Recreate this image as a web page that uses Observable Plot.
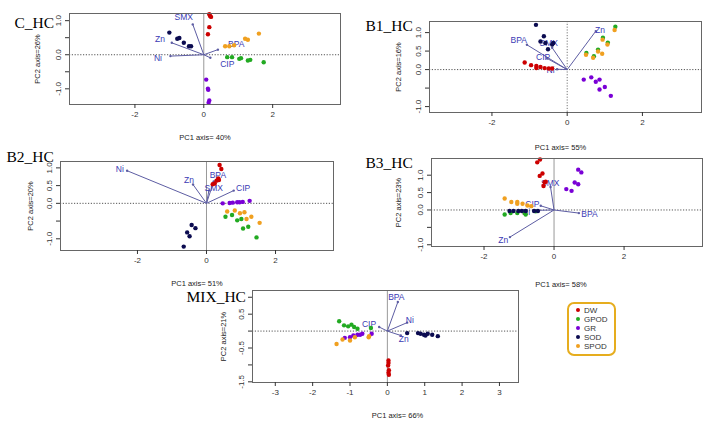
<!DOCTYPE html>
<html><head><meta charset="utf-8">
<script src="https://cdn.jsdelivr.net/npm/d3@7"></script>
<script src="https://cdn.jsdelivr.net/npm/@observablehq/plot@0.6"></script>
<style>
body{margin:0;background:#fff;}
#root{position:relative;width:708px;height:422px;overflow:hidden;background:#fff;font-family:"Liberation Sans",Arial,sans-serif;}
.legend{position:absolute;left:567px;top:302px;width:49px;height:54px;border:2px solid #e6ad1e;border-radius:7px;font-size:8px;color:#333;box-sizing:border-box;padding:2px 0 0 7px;line-height:9px;}
.legend span.d{display:inline-block;width:4px;height:4px;border-radius:50%;margin-right:4px;vertical-align:middle;position:relative;top:-1px;}
</style></head><body><div id="root"></div>
<script>
const groups = ["DW", "GPOD", "GR", "SOD", "SPOD"];
const groupColors = ["#cc0000", "#22aa22", "#7a00d6", "#0b0b50", "#f0a020"];

// ---- C_HC ----
const C_DW = [[0.16,1.19],[0.21,1.11],[0.18,1.14],[0.16,0.81],[0.12,0.60]];
const C_GPOD = [[0.68,-0.07],[0.82,-0.07],[1.03,-0.12],[1.08,-0.10],[1.28,-0.17],[1.35,-0.15],[1.74,-0.22]];
const C_GR = [[0.07,-0.73],[0.12,-1.0],[0.13,-1.03],[0.16,-1.34],[0.14,-1.41]];
const C_SOD = [[-1.0,0.65],[-0.77,0.47],[-0.71,0.49],[-0.58,0.35],[-0.43,0.25],[-0.37,0.25]];
const C_SPOD = [[0.62,0.25],[0.74,0.25],[0.88,0.28],[1.2,0.47],[1.28,0.44],[1.6,0.62]];
const C_vars = ["SMX","Zn","Ni","BPA","CIP"];
const C_tipX = [-0.32,-0.93,-0.97,0.41,0.19];
const C_tipY = [0.89,0.35,-0.04,0.15,-0.09];
const C_labX = [-0.58,-1.27,-1.33,0.94,0.68];
const C_labY = [1.09,0.44,-0.09,0.32,-0.28];

// ---- B1_HC ----
const B1_DW = [[-1.13,0.19],[-0.96,0.12],[-0.82,0.10],[-0.82,0.04],[-0.71,0.07],[-0.60,0.04],[-0.49,0.03],[-0.40,0.03]];
const B1_GPOD = [[1.28,1.16],[0.95,0.86],[1.08,0.73],[0.82,0.54],[0.51,0.45],[0.71,0.36]];
const B1_GR = [[0.44,-0.27],[0.64,-0.21],[0.76,-0.33],[0.86,-0.27],[0.86,-0.54],[1.0,-0.47],[1.16,-0.71]];
const B1_SOD = [[-0.83,1.21],[-0.62,0.90],[-0.71,0.76],[-0.58,0.72],[-0.37,0.72],[-0.51,0.55],[-0.40,0.68]];
const B1_SPOD = [[1.26,1.07],[0.94,0.81],[1.07,0.68],[0.82,0.49],[0.50,0.40],[0.69,0.32],[0.93,0.43]];
const B1_vars = ["Zn","BPA","SMX","CIP","Ni"];
const B1_tipX = [0.76,-1.07,-0.4,-0.53,-0.27];
const B1_tipY = [1.04,0.67,0.59,0.3,0.01];
const B1_labX = [0.87,-1.29,-0.49,-0.64,-0.44];
const B1_labY = [1.07,0.79,0.70,0.34,-0.02];

// ---- B2_HC ----
const B2_DW = [[0.38,1.08],[0.43,0.97],[0.34,0.70],[0.29,0.64],[0.24,0.56],[0.18,0.54],[0.36,0.66]];
const B2_GPOD = [[0.55,-0.38],[0.74,-0.33],[0.89,-0.48],[1.01,-0.44],[1.06,-0.71],[1.21,-0.66],[1.45,-0.96]];
const B2_GR = [[0.47,0.0],[0.67,0.01],[0.76,0.02],[0.89,0.03],[0.96,0.03],[1.05,0.04],[1.25,0.07]];
const B2_SOD = [[-0.43,-0.61],[-0.32,-0.70],[-0.56,-0.82],[-0.49,-0.93],[-0.66,-1.22]];
const B2_SPOD = [[0.60,-0.23],[0.82,-0.20],[0.97,-0.28],[1.10,-0.25],[1.16,-0.44],[1.30,-0.38],[1.54,-0.55]];
const B2_vars = ["Ni","Zn","BPA","SMX","CIP"];
const B2_tipX = [-2.3,-0.39,0.21,0.07,0.79];
const B2_tipY = [0.92,0.53,0.62,0.36,0.36];
const B2_labX = [-2.51,-0.51,0.33,0.21,1.06];
const B2_labY = [0.97,0.66,0.78,0.42,0.43];

// ---- B3_HC ----
const B3_DW = [[-0.48,1.37],[-0.40,1.45],[-0.33,1.05],[-0.41,0.98],[-0.27,0.80],[-0.30,0.69],[-0.24,0.81]];
const B3_GPOD = [[-1.41,-0.13],[-1.24,-0.09],[-1.05,-0.09],[-0.84,-0.09],[-0.81,-0.13],[-0.52,-0.04]];
const B3_GR = [[0.69,1.16],[0.78,1.08],[0.59,0.79],[0.69,0.74],[0.35,0.60],[0.50,0.55]];
const B3_SOD = [[-1.27,-0.03],[-1.16,-0.03],[-1.02,-0.03],[-0.92,-0.03],[-0.81,-0.03],[-0.57,-0.03],[-0.46,-0.03]];
const B3_SPOD = [[-1.41,0.33],[-1.22,0.23],[-1.05,0.23],[-1.05,0.18],[-0.90,0.18],[-0.76,0.13],[-0.65,0.11]];
const B3_vars = ["SMX","CIP","BPA","Zn","Ni"];
const B3_tipX = [-0.1,-0.38,0.71,-1.26,-0.5];
const B3_tipY = [0.66,0.12,-0.09,-0.78,-0.01];
const B3_labX = [-0.11,-0.62,1.01,-1.45,-0.8];
const B3_labY = [0.78,0.16,-0.13,-0.88,-0.08];

// ---- MIX_HC ----
const MIX_DW = [[0.03,-0.87],[0.03,-0.94],[0.02,-1.02],[0.04,-1.16],[0.03,-1.23],[0.04,-1.29]];
const MIX_GPOD = [[-1.29,0.29],[-1.16,0.17],[-1.05,0.14],[-0.96,0.19],[-0.89,0.12],[-0.80,0.07],[-0.44,0.09]];
const MIX_GR = [[-1.14,-0.20],[-1.0,-0.18],[-0.91,-0.13],[-0.80,-0.11],[-0.73,-0.11],[-0.67,-0.08],[-0.42,-0.08]];
const MIX_SOD = [[0.53,-0.06],[0.82,-0.06],[0.89,-0.08],[0.98,-0.11],[1.02,-0.13],[1.08,-0.08],[1.20,-0.11],[1.35,-0.15]];
const MIX_SPOD = [[-1.36,-0.38],[-1.20,-0.25],[-1.0,-0.28],[-0.87,-0.18],[-0.49,-0.15],[-0.50,-0.18]];
const MIX_vars = ["BPA","Ni","Zn","CIP"];
const MIX_tipX = [0.28,0.53,0.36,-0.22];
const MIX_tipY = [0.86,0.25,-0.13,0.12];
const MIX_labX = [0.24,0.60,0.44,-0.49];
const MIX_labY = [1.0,0.31,-0.23,0.19];

// ---- titles & ticks ----
const panelTitles = ["C_HC","B1_HC","B2_HC","B3_HC","MIX_HC"];
const xTitles = ["PC1 axis= 40%","PC1 axis= 55%","PC1 axis= 51%","PC1 axis= 58%","PC1 axis= 66%"];
const yTitles = ["PC2 axis=26%","PC2 axis=16%","PC2 axis=20%","PC2 axis=23%","PC2 axis=21%"];
const xTicks3 = [-2, 0, 2];
const xTickLabels3 = ["-2", "0", "2"];
const xTicksMix = [-3, -2, -1, 0, 1, 2, 3];
const xTickLabelsMix = ["-3", "-2", "-1", "0", "1", "2", "3"];
const yTicksStd = [1, 0.5, 0, -0.5, -1];
const yTickLabelsC = ["1.0", "", "0.0", "", "-1.0"];
const yTickLabelsB = ["1.0", "0.5", "0.0", "", "-1.0"];
const yTicksMix = [1, 0.5, 0, -0.5, -1, -1.5];
const yTickLabelsMix = ["", "0.5", "", "-0.5", "", "-1.5"];

const root = document.getElementById("root");

function panel(i, pts, vars, tipX, tipY, labX, labY, xt, xtl, yt, ytl, L) {
  const data = [];
  groups.forEach((g, k) => pts[k].forEach(([x, y]) => data.push({x, y, g})));
  const loads = vars.map((v, k) => ({v, x: tipX[k], y: tipY[k], lx: labX[k], ly: labY[k]}));
  const mL = L.bx0 - L.sx, mT = L.by0 - L.sy;
  const mR = L.sx + L.w - L.bx1, mB = L.sy + L.h - L.by1;
  const xf = new Map(xt.map((t, k) => [t, xtl[k]]));
  const yf = new Map(yt.map((t, k) => [t, ytl[k]]));
  const svg = Plot.plot({
    width: L.w, height: L.h,
    marginLeft: mL, marginTop: mT, marginRight: mR, marginBottom: mB,
    x: {domain: L.xd}, y: {domain: L.yd},
    color: {domain: groups, range: groupColors},
    style: {background: "transparent", overflow: "visible", fontFamily: "'Liberation Sans', Arial, sans-serif"},
    marks: [
      Plot.ruleY([0], {stroke: "#555", strokeDasharray: "1.2,1.6"}),
      Plot.ruleX([0], L.vdash ? {stroke: "#777", strokeDasharray: "1.2,1.6"} : {stroke: "#999"}),
      Plot.link(loads, {x1: 0, y1: 0, x2: "x", y2: "y", stroke: "#5d5da3", strokeWidth: 1}),
      Plot.dot(loads, {x: "x", y: "y", r: 1.2, fill: "#5d5da3"}),
      Plot.text(loads, {x: "lx", y: "ly", text: "v", fill: "#3a3ab4", fontSize: 8.5}),
      Plot.dot(data, {x: "x", y: "y", fill: "g", r: 2.2}),
      Plot.frame({stroke: "#666"}),
      Plot.axisX({ticks: xt, tickFormat: d => xf.get(d), tickSize: 4, tickPadding: 3, label: null, fontSize: 8, color: "#333"}),
      Plot.axisY({ticks: yt, tickFormat: d => yf.get(d), tickSize: 4, tickRotate: -90, label: null, fontSize: 8, color: "#333"}),
      Plot.text([panelTitles[i]], {text: d => d, frameAnchor: "top-left", textAnchor: "start", lineAnchor: "middle", dx: L.tdx, dy: L.tdy, fontSize: 15.5, fontFamily: "'Liberation Serif', 'Times New Roman', serif", fill: "#000"}),
      Plot.text([xTitles[i]], {text: d => d, frameAnchor: "bottom", textAnchor: "middle", lineAnchor: "middle", dx: L.xldx, dy: L.xldy, fontSize: 7.5, fill: "#222"}),
      Plot.text([yTitles[i]], {text: d => d, frameAnchor: "left", textAnchor: "middle", lineAnchor: "middle", dx: L.yldx, rotate: -90, fontSize: 7.5, fill: "#222"})
    ]
  });
  svg.style.position = "absolute";
  svg.style.left = L.sx + "px";
  svg.style.top = L.sy + "px";
  root.appendChild(svg);
}

panel(0, [C_DW, C_GPOD, C_GR, C_SOD, C_SPOD], C_vars, C_tipX, C_tipY, C_labX, C_labY,
  xTicks3, xTickLabels3, yTicksStd, yTickLabelsC,
  {sx: 0, sy: 0, w: 350, h: 145, bx0: 69, by0: 13, bx1: 340, by1: 104, xd: [-3.9, 3.97], yd: [-1.46, 1.21],
   tdx: -55, tdy: 10, xldx: 0, xldy: 33, yldx: -32, vdash: false});
panel(1, [B1_DW, B1_GPOD, B1_GR, B1_SOD, B1_SPOD], B1_vars, B1_tipX, B1_tipY, B1_labX, B1_labY,
  xTicks3, xTickLabels3, yTicksStd, yTickLabelsB,
  {sx: 355, sy: 0, w: 353, h: 152, bx0: 429, by0: 21, bx1: 701, by1: 112, xd: [-3.66, 3.57], yd: [-1.16, 1.30],
   tdx: -64, tdy: 5, xldx: -5, xldy: 35, yldx: -31, vdash: true});
panel(2, [B2_DW, B2_GPOD, B2_GR, B2_SOD, B2_SPOD], B2_vars, B2_tipX, B2_tipY, B2_labX, B2_labY,
  xTicks3, xTickLabels3, yTicksStd, yTickLabelsB,
  {sx: 0, sy: 148, w: 350, h: 140, bx0: 60, by0: 161, bx1: 333, by1: 250, xd: [-4.23, 3.68], yd: [-1.33, 1.18],
   tdx: -54, tdy: -4, xldx: 0, xldy: 33, yldx: -30, vdash: false});
panel(3, [B3_DW, B3_GPOD, B3_GR, B3_SOD, B3_SPOD], B3_vars, B3_tipX, B3_tipY, B3_labX, B3_labY,
  xTicks3, xTickLabels3, yTicksStd, yTickLabelsB,
  {sx: 355, sy: 148, w: 353, h: 140, bx0: 431, by0: 158, bx1: 702, by1: 246, xd: [-3.5, 4.24], yd: [-1.05, 1.48],
   tdx: -66, tdy: 5, xldx: -6, xldy: 38, yldx: -33, vdash: false});
panel(4, [MIX_DW, MIX_GPOD, MIX_GR, MIX_SOD, MIX_SPOD], MIX_vars, MIX_tipX, MIX_tipY, MIX_labX, MIX_labY,
  xTicksMix, xTickLabelsMix, yTicksMix, yTickLabelsMix,
  {sx: 175, sy: 284, w: 355, h: 138, bx0: 252, by0: 290, bx1: 518, by1: 382, xd: [-3.61, 3.51], yd: [-1.52, 1.2],
   tdx: -66, tdy: 7, xldx: 12, xldy: 33, yldx: -29, vdash: false});

// legend
const lg = document.createElement("div");
lg.className = "legend";
lg.innerHTML = groups.map((g, k) => `<div><span class="d" style="background:${groupColors[k]}"></span>${g}</div>`).join("");
root.appendChild(lg);
</script></body></html>
